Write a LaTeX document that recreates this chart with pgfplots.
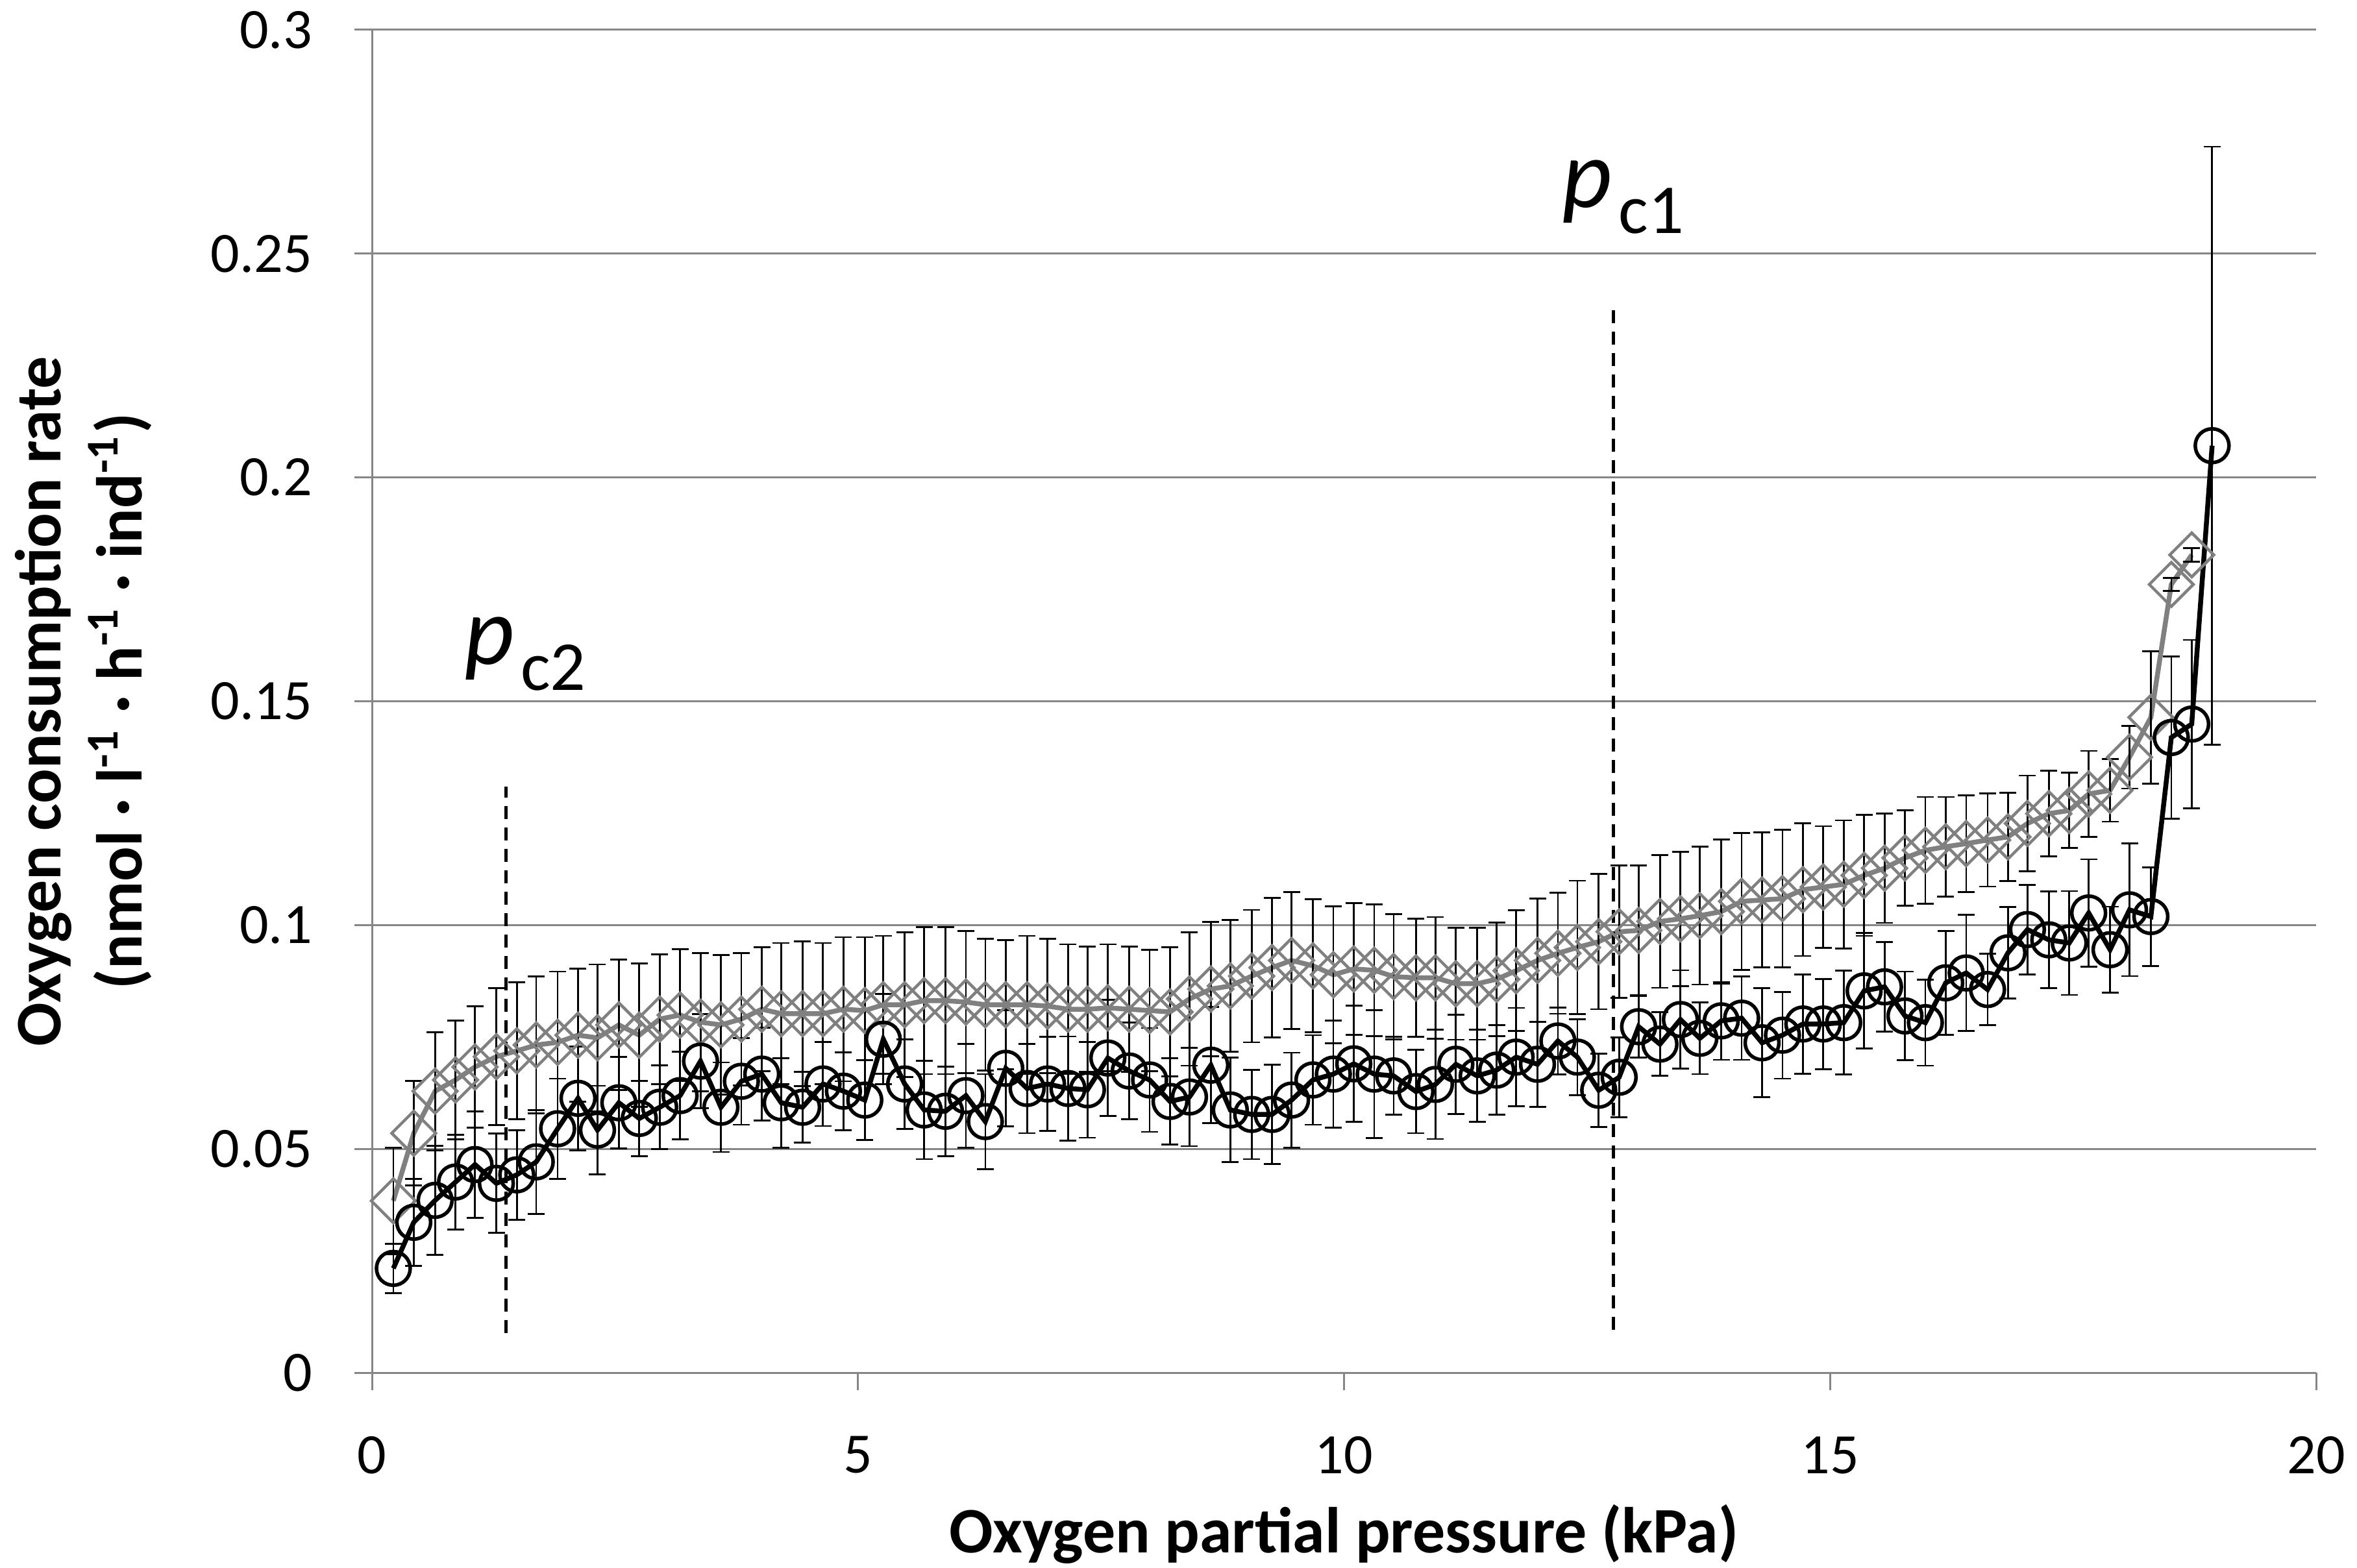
\documentclass[border=0pt]{standalone}
\usepackage{fontspec}
\setmainfont{Carlito}
\usepackage{pgfplots}
\usepackage{pgfplotstable}
\pgfplotsset{compat=1.18}
\definecolor{gridgray}{RGB}{134,134,134}
\definecolor{sergray}{RGB}{128,128,128}

\pgfplotstableread{
x y e
0.22 0.0233 0.0055
0.43 0.0336 0.0097
0.65 0.0385 0.0122
0.86 0.0426 0.0106
1.06 0.0465 0.0119
1.28 0.0423 0.0111
1.49 0.0442 0.0100
1.69 0.0471 0.0116
1.91 0.0545 0.0112
2.12 0.0613 0.0116
2.32 0.0542 0.0099
2.54 0.0603 0.0102
2.75 0.0568 0.0084
2.96 0.0593 0.0094
3.17 0.0619 0.0098
3.38 0.0696 0.0105
3.59 0.0593 0.0100
3.80 0.0651 0.0097
4.01 0.0667 0.0104
4.21 0.0603 0.0100
4.43 0.0593 0.0079
4.64 0.0645 0.0094
4.85 0.0629 0.0087
5.07 0.0609 0.0089
5.26 0.0745 0.0101
5.48 0.0645 0.0100
5.68 0.0587 0.0110
5.90 0.0584 0.0100
6.11 0.0619 0.0116
6.31 0.0561 0.0106
6.52 0.0680 0.0130
6.74 0.0635 0.0100
6.95 0.0645 0.0105
7.16 0.0635 0.0116
7.36 0.0632 0.0107
7.57 0.0703 0.0130
7.79 0.0674 0.0108
8.00 0.0654 0.0116
8.21 0.0606 0.0096
8.41 0.0616 0.0110
8.63 0.0687 0.0130
8.83 0.0587 0.0117
9.05 0.0577 0.0100
9.26 0.0577 0.0111
9.46 0.0609 0.0106
9.68 0.0654 0.0100
9.89 0.0667 0.0120
10.10 0.0690 0.0130
10.31 0.0667 0.0143
10.51 0.0663 0.0087
10.74 0.0628 0.0093
10.94 0.0644 0.0122
11.15 0.0689 0.0111
11.37 0.0663 0.0103
11.57 0.0676 0.0100
11.77 0.0705 0.0110
11.99 0.0689 0.0095
12.20 0.0741 0.0075
12.40 0.0705 0.0085
12.62 0.0631 0.0082
12.83 0.0660 0.0089
13.03 0.0773 0.0069
13.25 0.0734 0.0071
13.46 0.0789 0.0110
13.66 0.0747 0.0080
13.88 0.0786 0.0087
14.09 0.0792 0.0093
14.30 0.0737 0.0122
14.51 0.0754 0.0097
14.72 0.0779 0.0111
14.93 0.0779 0.0101
15.14 0.0782 0.0116
15.35 0.0853 0.0129
15.56 0.0862 0.0100
15.77 0.0797 0.0099
15.98 0.0782 0.0096
16.19 0.0871 0.0116
16.40 0.0893 0.0130
16.62 0.0856 0.0080
16.83 0.0938 0.0102
17.03 0.0990 0.0100
17.25 0.0967 0.0108
17.46 0.0960 0.0116
17.66 0.1027 0.0120
17.88 0.0945 0.0096
18.08 0.1034 0.0148
18.30 0.1019 0.0110
18.51 0.1419 0.0181
18.72 0.1449 0.0188
18.93 0.2071 0.0668
}\blackdata

\pgfplotstableread{
x y e
0.22 0.0384 0.0119
0.43 0.0535 0.0117
0.65 0.0629 0.0132
0.86 0.0654 0.0133
1.06 0.0683 0.0136
1.28 0.0706 0.0153
1.49 0.0719 0.0153
1.69 0.0732 0.0153
1.91 0.0738 0.0158
2.12 0.0754 0.0149
2.32 0.0748 0.0164
2.54 0.0777 0.0146
2.75 0.0754 0.0160
2.96 0.0790 0.0145
3.17 0.0799 0.0147
3.38 0.0783 0.0154
3.59 0.0777 0.0156
3.80 0.0790 0.0148
4.01 0.0812 0.0138
4.21 0.0802 0.0158
4.43 0.0802 0.0162
4.64 0.0802 0.0158
4.85 0.0812 0.0161
5.07 0.0809 0.0164
5.26 0.0822 0.0154
5.48 0.0822 0.0162
5.68 0.0831 0.0164
5.90 0.0831 0.0164
6.11 0.0828 0.0159
6.31 0.0822 0.0147
6.52 0.0822 0.0144
6.74 0.0822 0.0154
6.95 0.0819 0.0150
7.16 0.0812 0.0145
7.36 0.0812 0.0140
7.57 0.0815 0.0142
7.79 0.0812 0.0140
8.00 0.0809 0.0136
8.21 0.0806 0.0144
8.41 0.0835 0.0149
8.63 0.0857 0.0150
8.83 0.0864 0.0147
9.05 0.0886 0.0148
9.26 0.0905 0.0156
9.46 0.0921 0.0153
9.68 0.0909 0.0149
9.89 0.0889 0.0153
10.10 0.0902 0.0147
10.31 0.0899 0.0147
10.51 0.0885 0.0140
10.74 0.0882 0.0132
10.94 0.0882 0.0136
11.15 0.0869 0.0125
11.37 0.0869 0.0125
11.57 0.0879 0.0127
11.77 0.0898 0.0135
11.99 0.0921 0.0138
12.20 0.0937 0.0135
12.40 0.0950 0.0149
12.62 0.0963 0.0151
12.83 0.0985 0.0148
13.03 0.0988 0.0145
13.25 0.1008 0.0148
13.46 0.1014 0.0150
13.66 0.1021 0.0154
13.88 0.1030 0.0161
14.09 0.1053 0.0153
14.30 0.1056 0.0151
14.51 0.1059 0.0154
14.72 0.1079 0.0148
14.93 0.1085 0.0136
15.14 0.1091 0.0143
15.35 0.1111 0.0135
15.56 0.1127 0.0122
15.77 0.1150 0.0107
15.98 0.1167 0.0119
16.19 0.1175 0.0111
16.40 0.1182 0.0108
16.62 0.1190 0.0104
16.83 0.1197 0.0099
17.03 0.1227 0.0107
17.25 0.1249 0.0096
17.46 0.1256 0.0084
17.66 0.1293 0.0096
17.88 0.1301 0.0070
18.08 0.1375 0.0070
18.30 0.1464 0.0148
18.51 0.1761 0.0015
18.72 0.1827 0.0015
}\graydata

\begin{document}
\begin{tikzpicture}[x=1pt,y=1pt]
\useasboundingbox (0,0) rectangle (363.1,241.5);
\begin{axis}[
  at={(57.3pt,30pt)}, anchor=south west,
  scale only axis, width=299.5pt, height=206.9pt,
  xmin=0, xmax=20, ymin=0, ymax=0.3,
  xtick={0,5,10,15,20},
  ytick={0,0.05,0.1,0.15,0.2,0.25,0.3},
  axis x line*=bottom, axis y line*=left,
  axis line style={gridgray, line width=0.3pt},
  ymajorgrids, major grid style={gridgray, line width=0.3pt},
  tick align=outside, major tick length=2.7pt,
  tick style={gridgray, line width=0.3pt},
  /pgf/number format/assume math mode=true,
  tick label style={font=\fontsize{8.8}{10}\selectfont, black},
  yticklabel style={/pgf/number format/fixed, /pgf/number format/precision=2, xshift=-3pt},
  xticklabel style={yshift=-3.6pt},
  label style={font=\bfseries\fontsize{10}{12.5}\selectfont},
  xlabel={Oxygen partial pressure (kPa)},
  xlabel style={at={(axis description cs:0.5,-0.1339)}, anchor=base},
  ylabel={Oxygen consumption rate\\(nmol · l\textsuperscript{-1} · h\textsuperscript{-1} · ind\textsuperscript{-1})},
  ylabel style={at={(axis description cs:-0.1486,0.5)}, anchor=center, align=center},
  clip=false,
]
% grey series
\addplot[sergray, line width=0.75pt,
  mark=square, mark size=2.4pt,
  mark options={rotate=45, solid, draw=sergray, fill=none, line width=0.45pt},
  error bars/.cd, y dir=both, y explicit,
  error bar style={black, line width=0.28pt},
  error mark options={rotate=90, black, line width=0.28pt, mark size=1.3pt}]
  table[x=x, y=y, y error=e] {\graydata};
% black series
\addplot[black, line width=0.75pt,
  mark=o, mark size=2.6pt,
  mark options={solid, draw=black, fill=none, line width=0.55pt},
  error bars/.cd, y dir=both, y explicit,
  error bar style={black, line width=0.28pt},
  error mark options={rotate=90, black, line width=0.28pt, mark size=1.3pt}]
  table[x=x, y=y, y error=e] {\blackdata};
% critical pressure lines
\addplot[black, line width=0.45pt, dash pattern=on 2pt off 1.3pt] coordinates {(1.38,0.0088) (1.38,0.131)};
\addplot[black, line width=0.45pt, dash pattern=on 2pt off 1.3pt] coordinates {(12.77,0.0096) (12.77,0.238)};
\node[anchor=base west, inner sep=0pt] at (axis cs:0.935,0.1583)
  {\fontsize{15}{15}\selectfont\itshape p\hspace{1pt}\raisebox{-4pt}{\fontsize{10.8}{11}\selectfont\upshape c2}};
\node[anchor=base west, inner sep=0pt] at (axis cs:12.23,0.2603)
  {\fontsize{15}{15}\selectfont\itshape p\hspace{1pt}\raisebox{-4pt}{\fontsize{10.8}{11}\selectfont\upshape c1}};
\end{axis}
\end{tikzpicture}
\end{document}
